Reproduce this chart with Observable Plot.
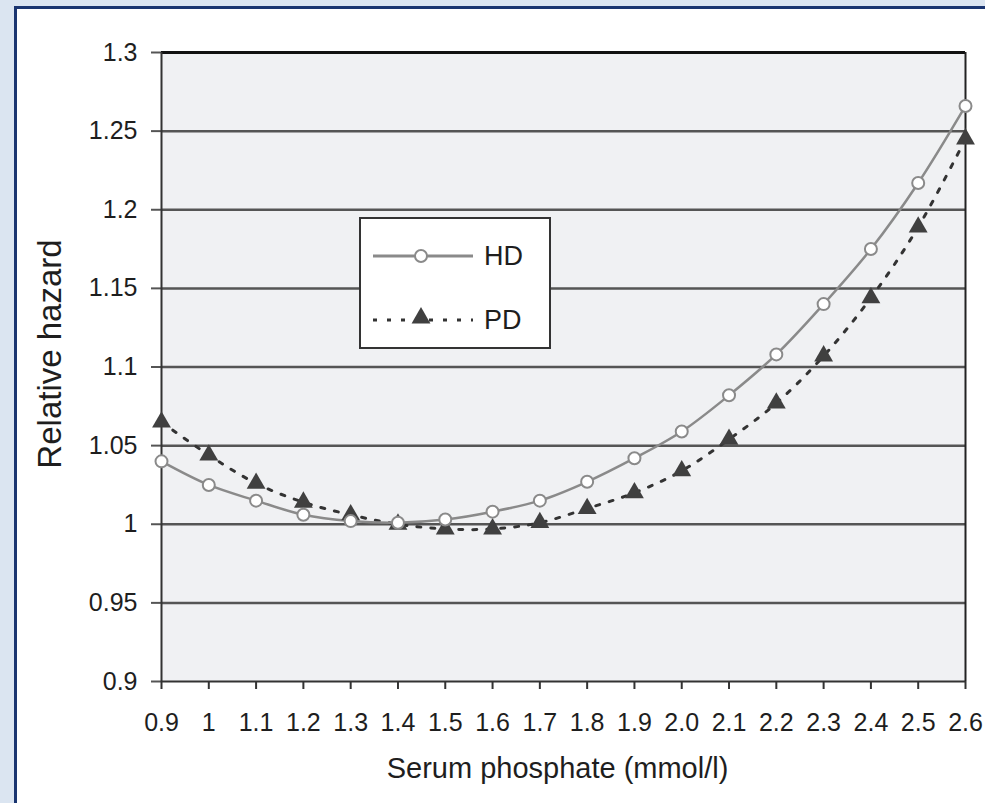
<!DOCTYPE html>
<html><head><meta charset="utf-8">
<script src="https://cdn.jsdelivr.net/npm/d3@7"></script>
<script src="https://cdn.jsdelivr.net/npm/@observablehq/plot@0.6"></script>
<style>
body{margin:0;background:#dbe5f1;}
#wrap{position:relative;width:985px;height:803px;overflow:hidden;background:#dbe5f1;font-family:"Liberation Sans",Arial,sans-serif;}
#panel{position:absolute;left:14px;top:6px;right:-10px;bottom:-10px;background:#fff;border-left:3px solid #1a3570;border-top:3px solid #1a3570;}
#chart{position:absolute;left:0;top:0;}
#legend{position:absolute;left:359px;top:217px;width:188px;height:128px;background:#fff;border:2px solid #333;}
#legend svg{position:absolute;left:0;top:0;}
</style></head><body>
<div id="wrap"><div id="panel"></div><div id="chart"></div><div id="legend"></div></div>
<script>
const phosphate = [0.9, 1.0, 1.1, 1.2, 1.3, 1.4, 1.5, 1.6, 1.7, 1.8, 1.9, 2.0, 2.1, 2.2, 2.3, 2.4, 2.5, 2.6];
const hdHazard = [1.040, 1.025, 1.015, 1.006, 1.002, 1.001, 1.003, 1.008, 1.015, 1.027, 1.042, 1.059, 1.082, 1.108, 1.140, 1.175, 1.217, 1.266];
const pdHazard = [1.065, 1.044, 1.026, 1.014, 1.006, 1.000, 0.997, 0.997, 1.001, 1.010, 1.020, 1.034, 1.054, 1.077, 1.107, 1.144, 1.189, 1.245];
const xTickLabels = ["0.9", "1", "1.1", "1.2", "1.3", "1.4", "1.5", "1.6", "1.7", "1.8", "1.9", "2.0", "2.1", "2.2", "2.3", "2.4", "2.5", "2.6"];
const yTicks = [0.9, 0.95, 1.0, 1.05, 1.1, 1.15, 1.2, 1.25, 1.3];
const yTickLabels = ["0.9", "0.95", "1", "1.05", "1.1", "1.15", "1.2", "1.25", "1.3"];
const seriesNames = ["HD", "PD"];
const yLabel = "Relative hazard";
const xLabel = "Serum phosphate (mmol/l)";

const data = phosphate.map((x, i) => ({x, hd: hdHazard[i], pd: pdHazard[i]}));
const lookup = (arr, labels) => d => labels[arr.findIndex(v => Math.abs(v - d) < 1e-9)];

const plot = Plot.plot({
  width: 985, height: 803,
  marginLeft: 161, marginRight: 20, marginTop: 52, marginBottom: 122,
  style: {background: "transparent", fontFamily: "Liberation Sans, Arial, sans-serif", fontSize: "25px", color: "#222", overflow: "visible"},
  x: {domain: [0.9, 2.6]},
  y: {domain: [0.9, 1.3]},
  marks: [
    Plot.frame({fill: "#f0f1f3", stroke: null}),
    Plot.ruleY(yTicks.slice(1, -1), {stroke: "#555", strokeWidth: 2.5}),
    Plot.axisY({ticks: yTicks, tickSize: 10, tickPadding: 14, tickFormat: lookup(yTicks, yTickLabels), stroke: "#555", strokeWidth: 2, fill: "#1e1e1e", fontSize: 25, label: null}),
    Plot.axisX({ticks: phosphate, tickSize: 8, tickPadding: 24, tickFormat: lookup(phosphate, xTickLabels), stroke: "#333", strokeWidth: 2, fill: "#1e1e1e", fontSize: 25, label: null}),
    Plot.ruleY([1.3], {stroke: "#111", strokeWidth: 3}),
    Plot.ruleY([0.9], {stroke: "#333", strokeWidth: 2}),
    Plot.ruleX([0.9], {stroke: "#333", strokeWidth: 2}),
    Plot.ruleX([2.6], {stroke: "#222", strokeWidth: 2}),
    Plot.line(data, {x: "x", y: "pd", stroke: "#333", strokeWidth: 3, strokeDasharray: "4,10", curve: "catmull-rom"}),
    Plot.line(data, {x: "x", y: "hd", stroke: "#8a8a8a", strokeWidth: 2.5, curve: "catmull-rom"}),
    Plot.dot(data, {x: "x", y: "pd", symbol: "triangle", r: 7, fill: "#404040", stroke: null}),
    Plot.dot(data, {x: "x", y: "hd", r: 6, fill: "white", stroke: "#8a8a8a", strokeWidth: 2}),
    Plot.text([yLabel], {frameAnchor: "left", dx: -111, dy: -13, rotate: -90, textAnchor: "middle", lineAnchor: "middle", fontSize: 33, fill: "#1e1e1e"}),
    Plot.text([xLabel], {frameAnchor: "bottom", dx: -6, dy: 87, textAnchor: "middle", lineAnchor: "middle", fontSize: 29, fill: "#1e1e1e"})
  ]
});
document.getElementById("chart").appendChild(plot);

// Legend
const lg = d3.select("#legend").append("svg").attr("width", 188).attr("height", 128)
  .style("font-family", "Liberation Sans, Arial, sans-serif");
lg.append("line").attr("x1", 12).attr("x2", 112).attr("y1", 37).attr("y2", 37)
  .attr("stroke", "#8a8a8a").attr("stroke-width", 3);
lg.append("circle").attr("cx", 60).attr("cy", 37).attr("r", 6)
  .attr("fill", "white").attr("stroke", "#8a8a8a").attr("stroke-width", 2);
lg.append("text").attr("x", 123).attr("y", 46).attr("font-size", 27).attr("fill", "#1e1e1e").text(seriesNames[0]);
lg.append("line").attr("x1", 12).attr("x2", 112).attr("y1", 101).attr("y2", 101)
  .attr("stroke", "#333").attr("stroke-width", 3).attr("stroke-dasharray", "4,10");
lg.append("path").attr("d", d3.symbol(d3.symbolTriangle, Math.PI * 49)())
  .attr("transform", "translate(60,99)").attr("fill", "#404040");
lg.append("text").attr("x", 123).attr("y", 110).attr("font-size", 27).attr("fill", "#1e1e1e").text(seriesNames[1]);
</script>
</body></html>
